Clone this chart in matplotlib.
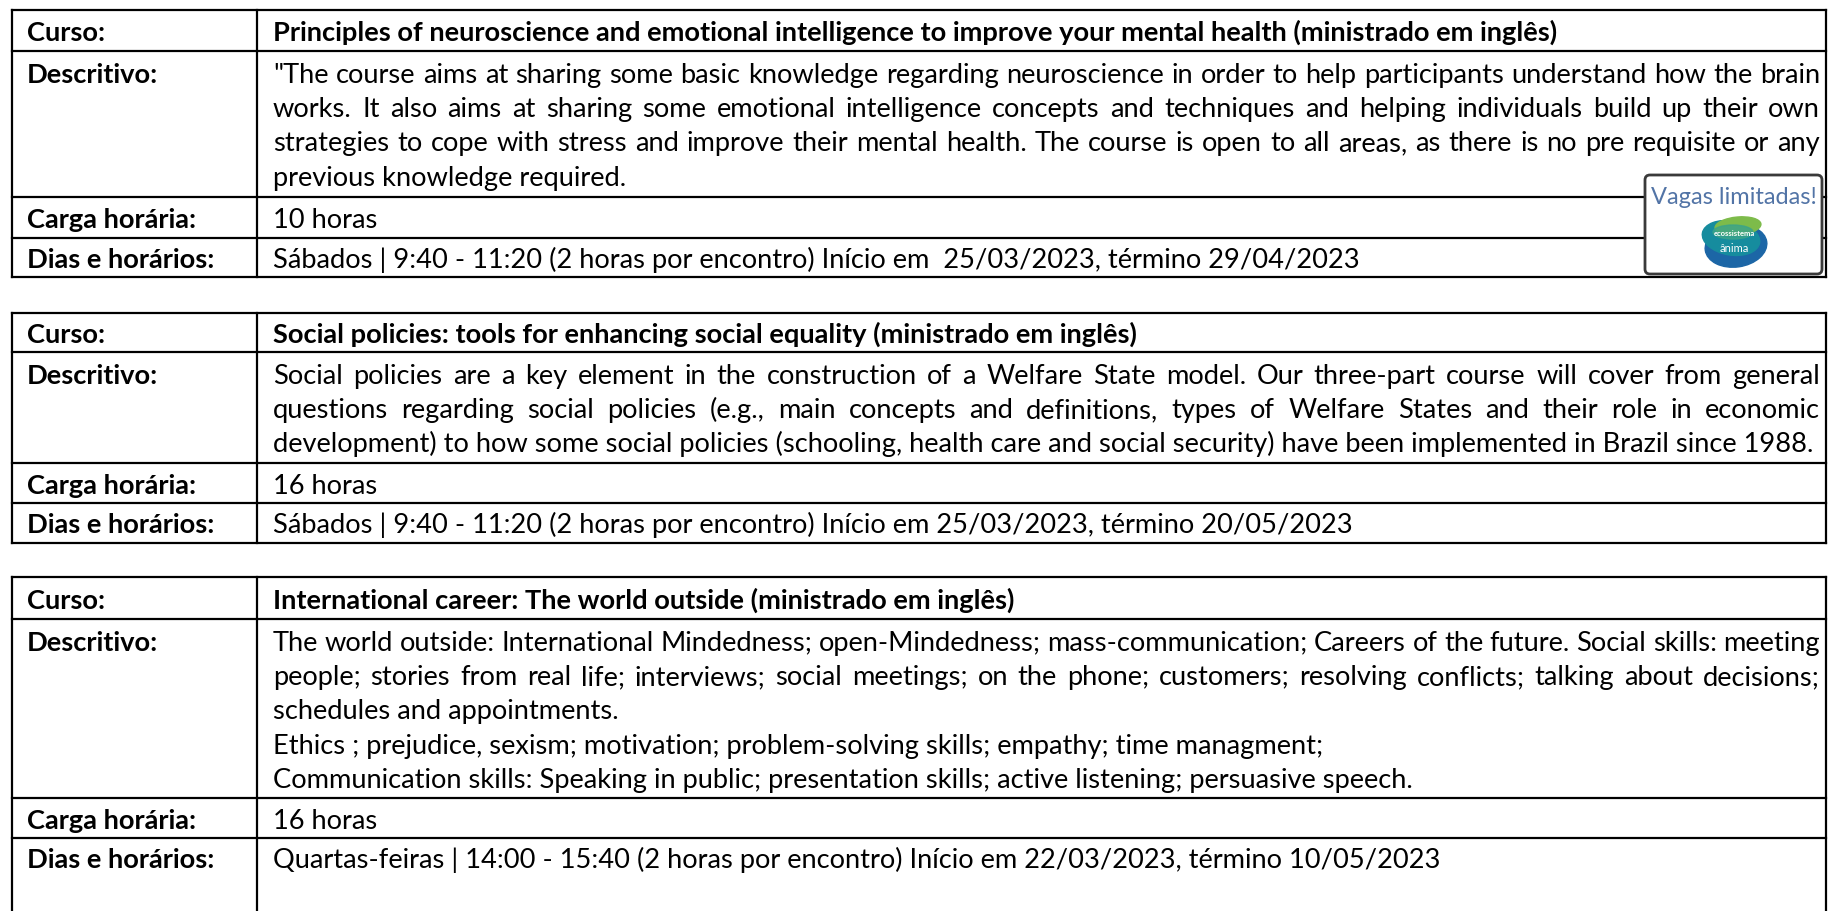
import matplotlib
matplotlib.use("Agg")
import matplotlib.pyplot as plt
from matplotlib.patches import FancyBboxPatch, Ellipse

# ---- content ----
labels = ["Curso:", "Descritivo:", "Carga horária:", "Dias e horários:"]

titles = [
    "Principles of neuroscience and emotional intelligence to improve your mental health (ministrado em inglês)",
    "Social policies: tools for enhancing social equality (ministrado em inglês)",
    "International career: The world outside (ministrado em inglês)",
]

desc_1 = [
    "\"The course aims at sharing some basic knowledge regarding neuroscience in order to help participants understand how the brain",
    "works. It also aims at sharing some emotional intelligence concepts and techniques and helping individuals build up their own",
    "strategies to cope with stress and improve their mental health. The course is open to all areas, as there is no pre requisite or any",
    "previous knowledge required.",
]
desc_2 = [
    "Social policies are a key element in the construction of a Welfare State model. Our three-part course will cover from general",
    "questions regarding social policies (e.g., main concepts and definitions, types of Welfare States and their role in economic",
    "development) to how some social policies (schooling, health care and social security) have been implemented in Brazil since 1988.",
]
desc_3 = [
    "The world outside: International Mindedness; open-Mindedness; mass-communication; Careers of the future. Social skills: meeting",
    "people; stories from real life; interviews; social meetings; on the phone; customers; resolving conflicts; talking about decisions;",
    "schedules and appointments.",
    "Ethics ; prejudice, sexism; motivation; problem-solving skills; empathy; time managment;",
    "Communication skills: Speaking in public; presentation skills; active listening; persuasive speech.",
]
descs = [desc_1, desc_2, desc_3]
justified = [[True, True, True, False], [True, True, False], [True, True, False, False, False]]

hours = ["10 horas", "16 horas", "16 horas"]
schedules = [
    "Sábados | 9:40 - 11:20 (2 horas por encontro) Início em  25/03/2023, término 29/04/2023",
    "Sábados | 9:40 - 11:20 (2 horas por encontro) Início em 25/03/2023, término 20/05/2023",
    "Quartas-feiras | 14:00 - 15:40 (2 horas por encontro) Início em 22/03/2023, término 10/05/2023",
]

# ---- layout (pixels) ----
W, H = 1830, 911
X0, XD, X1 = 12, 257, 1826
TXT_L, TXT_V, TXT_R = 27, 273, 1820
row_edges = [[10, 51, 197, 238, 277], [313, 352, 463, 503, 543], [577, 619, 798, 838, None]]
LINE_STEP = 34.3
FONT = "Lato"

fig = plt.figure(figsize=(W / 100, H / 100), dpi=100)
ax = fig.add_axes([0, 0, 1, 1])
ax.set_xlim(0, W); ax.set_ylim(H, 0); ax.axis("off")
renderer = fig.canvas.get_renderer()


def text_width(s, fs, bold=False):
    t = ax.text(0, 0, s, fontsize=fs, family=FONT, weight="bold" if bold else "normal")
    w = t.get_window_extent(renderer).width
    t.remove()
    return w


# size body text so the natural full line of course 2 spans its measured width
FS = 10 * (1817 - TXT_V) / text_width(desc_2[2], 10)
PX = FS * 100 / 72
BASE = 0.358 * PX


def put(x, yc, s, bold=False, **kw):
    ax.text(x, yc + BASE, s, fontsize=FS, family=FONT, weight="bold" if bold else "normal",
            va="baseline", ha="left", color="black", **kw)


def put_justified(yc, s):
    words = s.split(" ")
    ws = [text_width(w, FS) for w in words]
    gap = (TXT_R - TXT_V - sum(ws)) / (len(words) - 1)
    x = TXT_V
    for w, wd in zip(words, ws):
        put(x, yc, w)
        x += wd + gap


LW = 1.6
for k, edges in enumerate(row_edges):
    top = edges[0]
    bottom = edges[-1] if edges[-1] is not None else H + 5
    for y in edges:
        if y is not None:
            ax.plot([X0, X1], [y, y], color="black", lw=LW, solid_capstyle="projecting")
    for x in (X0, XD, X1):
        ax.plot([x, x], [top, bottom], color="black", lw=LW, solid_capstyle="projecting")

    # left labels
    centers = [(edges[0] + edges[1]) / 2 + 1,
               edges[1] + 22,
               (edges[2] + edges[3]) / 2 + 1,
               edges[3] + 20]
    for lab, yc in zip(labels, centers):
        put(TXT_L, yc, lab, bold=True)

    put(TXT_V, centers[0], titles[k], bold=True)
    for i, line in enumerate(descs[k]):
        yc = edges[1] + 22 + i * LINE_STEP
        if justified[k][i]:
            put_justified(yc, line)
        else:
            put(TXT_V, yc, line)
    put(TXT_V, centers[2], hours[k])
    put(TXT_V, centers[3], schedules[k])

# "Vagas limitadas!" badge over the first table
badge = FancyBboxPatch((1645, 175), 177, 99, boxstyle="round,pad=0,rounding_size=5",
                       fc="white", ec="#3a3a3a", lw=2, zorder=5)
ax.add_patch(badge)
badge_fs = 10 * 166 / text_width("Vagas limitadas!", 10)
ax.text(1734, 197, "Vagas limitadas!", fontsize=badge_fs, family=FONT, color="#5274a6",
        ha="center", va="center", zorder=6)
ax.add_patch(Ellipse((1736, 246), 62, 42, angle=-8, color="#1c66a6", zorder=6))
ax.add_patch(Ellipse((1731, 238), 58, 34, angle=10, color="#168c9e", zorder=6))
ax.add_patch(Ellipse((1738, 226), 46, 18, angle=-5, color="#7dbb4a", zorder=6))
ax.add_patch(Ellipse((1733, 232), 40, 14, color="#3aa38a", alpha=0.8, zorder=6))
ax.text(1734, 234, "ecossistema", fontsize=5.5, family=FONT, weight="bold", color="white",
        ha="center", va="center", zorder=7)
ax.text(1734, 248, "ânima", fontsize=8, family=FONT, color="white",
        ha="center", va="center", zorder=7)

fig.savefig("out.png", dpi=100, facecolor="white")
